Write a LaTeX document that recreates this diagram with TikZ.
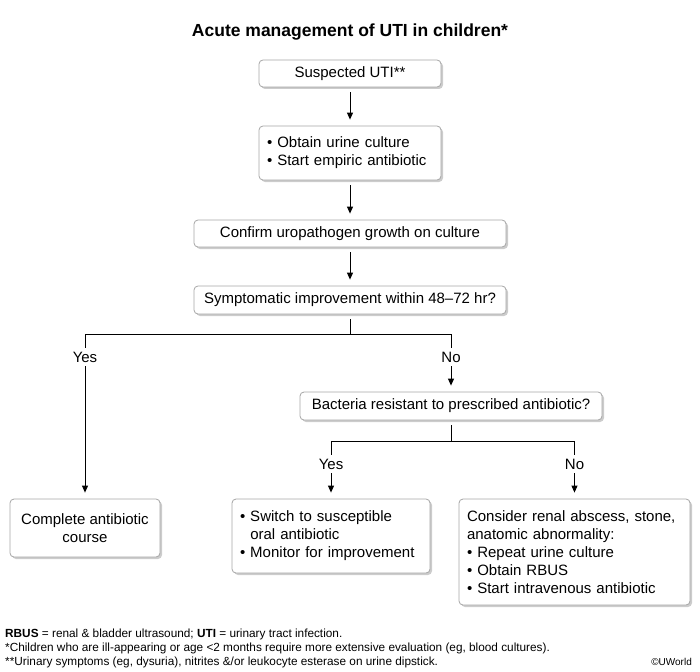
\documentclass[tikz,border=0pt]{standalone}
\usepackage{fontspec}
\setmainfont{Liberation Sans}
\usetikzlibrary{arrows.meta,shadows}
\begin{document}
\begin{tikzpicture}[x=1pt,y=-1pt,
  box/.style={draw=black!35, line width=0.8pt, fill=white, rounded corners=4pt,
    drop shadow={shadow xshift=2pt, shadow yshift=-2pt, fill=black!40},
    inner sep=0pt, font=\fontsize{15}{18}\selectfont},
  lbox/.style={box, align=left, inner xsep=8pt},
  ln/.style={line width=0.9pt, draw=black},
  arr/.style={ln, -{Triangle[length=7pt,width=6pt]}, shorten >=6pt},
  lbl/.style={inner sep=4pt, font=\fontsize{15}{18}\selectfont},
  fn/.style={inner sep=0pt, font=\fontsize{11.8}{14}\selectfont, anchor=base west}
]
\useasboundingbox (0,0) rectangle (700,671);

\node[anchor=base, inner sep=0pt, font=\bfseries\fontsize{17.5}{20}\selectfont] (title) at (350,37) {Acute management of UTI in children*};

\node[box, minimum width=182pt, minimum height=27pt] (b1) at (350,73.5) {Suspected UTI**};
\node[lbox, text width=166pt, minimum height=54pt] (b2) at (350,153)
  {\textbullet\ Obtain urine culture\\\textbullet\ Start empiric antibiotic};
\node[box, minimum width=312pt, minimum height=27pt] (b3) at (350,233.5) {Confirm uropathogen growth on culture};
\node[box, minimum width=312pt, minimum height=28pt] (b4) at (350,300) {Symptomatic improvement within 48--72 hr?};
\node[box, minimum width=302pt, minimum height=28pt] (b5) at (451,406) {Bacteria resistant to prescribed antibiotic?};
\node[box, minimum width=150pt, minimum height=58pt, align=center] (b6) at (85,528) {Complete antibiotic\\course};
\node[lbox, text width=182pt, minimum height=74pt] (b7) at (331,536)
  {\textbullet\ Switch to susceptible\\\phantom{\textbullet\ }oral antibiotic\\\textbullet\ Monitor for improvement};
\node[lbox, text width=215pt, minimum height=106pt] (b8) at (574.5,552)
  {Consider renal abscess, stone,\\anatomic abnormality:\\\textbullet\ Repeat urine culture\\\textbullet\ Obtain RBUS\\\textbullet\ Start intravenous antibiotic};

\draw[arr, shorten <=5pt] (b1) -- (b2);
\draw[arr, shorten <=5pt] (b2) -- (b3);
\draw[arr, shorten <=5pt] (b3) -- (b4);

\coordinate (j1) at (350,334);
\coordinate (jy) at (85,334);
\coordinate (jn) at (451,334);
\node[lbl] (yes1) at (85,357) {Yes};
\node[lbl] (no1) at (451,357) {No};
\draw[ln, shorten <=5pt] (b4) -- (j1);
\draw[ln] (jy) -- (jn);
\draw[ln] (jy) -- (yes1);
\draw[ln] (jn) -- (no1);
\draw[arr] (yes1) -- (b6);
\draw[arr] (no1) -- (b5);

\coordinate (j2) at (451,441);
\coordinate (jy2) at (331,441);
\coordinate (jn2) at (574.5,441);
\node[lbl] (yes2) at (331,464) {Yes};
\node[lbl] (no2) at (574.5,464) {No};
\draw[ln, shorten <=5pt] (b5) -- (j2);
\draw[ln] (jy2) -- (jn2);
\draw[ln] (jy2) -- (yes2);
\draw[ln] (jn2) -- (no2);
\draw[arr] (yes2) -- (b7);
\draw[arr] (no2) -- (b8);

\node[fn] (f1) at (5,637) {\textbf{RBUS} = renal \& bladder ultrasound; \textbf{UTI} = urinary tract infection.};
\node[fn] (f2) at (5,651) {*Children who are ill-appearing or age <2 months require more extensive evaluation (eg, blood cultures).};
\node[fn] (f3) at (5,665) {**Urinary symptoms (eg, dysuria), nitrites \&/or leukocyte esterase on urine dipstick.};
\node[anchor=base east, inner sep=0pt, font=\fontsize{10}{12}\selectfont] (cr) at (692,665) {©UWorld};
\end{tikzpicture}
\end{document}
